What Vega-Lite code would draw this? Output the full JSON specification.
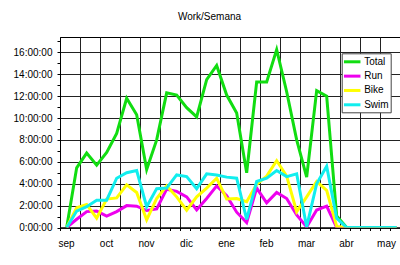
{
"$schema":"https://vega.github.io/schema/vega-lite/v6.json",
"width":340,"height":190.5,
"autosize":"none",
"padding":{"left":60,"top":37,"right":0,"bottom":37.5},
"background":"white",
"title":{"text":"Work/Semana","fontSize":10,"fontWeight":"normal","font":"Liberation Sans","color":"black","anchor":"middle","dx":-20.5,"offset":6,"baseline":"alphabetic"},
"datasets":{"t":[
{"w":0,"s":"Total","h":0},{"w":1,"s":"Total","h":5.45},{"w":2,"s":"Total","h":6.8},{"w":3,"s":"Total","h":5.7},{"w":4,"s":"Total","h":6.85},{"w":5,"s":"Total","h":8.6},{"w":6,"s":"Total","h":11.8},{"w":7,"s":"Total","h":10.3},{"w":8,"s":"Total","h":5.3},{"w":9,"s":"Total","h":8.0},{"w":10,"s":"Total","h":12.3},{"w":11,"s":"Total","h":12.1},{"w":12,"s":"Total","h":10.95},{"w":13,"s":"Total","h":10.1},{"w":14,"s":"Total","h":13.5},{"w":15,"s":"Total","h":14.8},{"w":16,"s":"Total","h":12.1},{"w":17,"s":"Total","h":10.45},{"w":18,"s":"Total","h":5.0},{"w":19,"s":"Total","h":13.3},{"w":20,"s":"Total","h":13.3},{"w":21,"s":"Total","h":16.25},{"w":22,"s":"Total","h":12.4},{"w":23,"s":"Total","h":8.0},{"w":24,"s":"Total","h":4.6},{"w":25,"s":"Total","h":12.5},{"w":26,"s":"Total","h":12.0},{"w":27,"s":"Total","h":1.05},{"w":28,"s":"Total","h":0},{"w":29,"s":"Total","h":0},{"w":30,"s":"Total","h":0},{"w":31,"s":"Total","h":0},{"w":32,"s":"Total","h":0},{"w":33,"s":"Total","h":0},
{"w":0,"s":"Run","h":0},{"w":1,"s":"Run","h":0.75},{"w":2,"s":"Run","h":1.45},{"w":3,"s":"Run","h":1.5},{"w":4,"s":"Run","h":1.05},{"w":5,"s":"Run","h":1.45},{"w":6,"s":"Run","h":2.0},{"w":7,"s":"Run","h":1.95},{"w":8,"s":"Run","h":1.55},{"w":9,"s":"Run","h":1.7},{"w":10,"s":"Run","h":3.5},{"w":11,"s":"Run","h":3.3},{"w":12,"s":"Run","h":2.8},{"w":13,"s":"Run","h":1.6},{"w":14,"s":"Run","h":2.65},{"w":15,"s":"Run","h":3.8},{"w":16,"s":"Run","h":2.9},{"w":17,"s":"Run","h":1.4},{"w":18,"s":"Run","h":0.45},{"w":19,"s":"Run","h":3.6},{"w":20,"s":"Run","h":2.25},{"w":21,"s":"Run","h":3.2},{"w":22,"s":"Run","h":2.65},{"w":23,"s":"Run","h":1.15},{"w":24,"s":"Run","h":0.05},{"w":25,"s":"Run","h":1.6},{"w":26,"s":"Run","h":1.95},{"w":27,"s":"Run","h":0},{"w":28,"s":"Run","h":0},{"w":29,"s":"Run","h":0},{"w":30,"s":"Run","h":0},{"w":31,"s":"Run","h":0},{"w":32,"s":"Run","h":0},{"w":33,"s":"Run","h":0},
{"w":0,"s":"Bike","h":0},{"w":1,"s":"Bike","h":1.8},{"w":2,"s":"Bike","h":2.1},{"w":3,"s":"Bike","h":0.85},{"w":4,"s":"Bike","h":2.6},{"w":5,"s":"Bike","h":2.7},{"w":6,"s":"Bike","h":3.9},{"w":7,"s":"Bike","h":3.2},{"w":8,"s":"Bike","h":0.7},{"w":9,"s":"Bike","h":2.65},{"w":10,"s":"Bike","h":3.8},{"w":11,"s":"Bike","h":2.8},{"w":12,"s":"Bike","h":1.58},{"w":13,"s":"Bike","h":2.8},{"w":14,"s":"Bike","h":3.6},{"w":15,"s":"Bike","h":4.5},{"w":16,"s":"Bike","h":2.6},{"w":17,"s":"Bike","h":2.65},{"w":18,"s":"Bike","h":2.35},{"w":19,"s":"Bike","h":3.95},{"w":20,"s":"Bike","h":4.7},{"w":21,"s":"Bike","h":6.1},{"w":22,"s":"Bike","h":4.7},{"w":23,"s":"Bike","h":1.45},{"w":24,"s":"Bike","h":2.8},{"w":25,"s":"Bike","h":4.2},{"w":26,"s":"Bike","h":3.4},{"w":27,"s":"Bike","h":0.1},{"w":28,"s":"Bike","h":0},{"w":29,"s":"Bike","h":0},{"w":30,"s":"Bike","h":0},{"w":31,"s":"Bike","h":0},{"w":32,"s":"Bike","h":0},{"w":33,"s":"Bike","h":0},
{"w":0,"s":"Swim","h":0},{"w":1,"s":"Swim","h":1.5},{"w":2,"s":"Swim","h":1.9},{"w":3,"s":"Swim","h":2.5},{"w":4,"s":"Swim","h":2.5},{"w":5,"s":"Swim","h":4.5},{"w":6,"s":"Swim","h":5.0},{"w":7,"s":"Swim","h":5.2},{"w":8,"s":"Swim","h":1.9},{"w":9,"s":"Swim","h":3.55},{"w":10,"s":"Swim","h":3.6},{"w":11,"s":"Swim","h":4.8},{"w":12,"s":"Swim","h":4.65},{"w":13,"s":"Swim","h":3.55},{"w":14,"s":"Swim","h":4.9},{"w":15,"s":"Swim","h":4.8},{"w":16,"s":"Swim","h":4.6},{"w":17,"s":"Swim","h":4.5},{"w":18,"s":"Swim","h":0.75},{"w":19,"s":"Swim","h":4.2},{"w":20,"s":"Swim","h":4.5},{"w":21,"s":"Swim","h":5.2},{"w":22,"s":"Swim","h":4.65},{"w":23,"s":"Swim","h":4.9},{"w":24,"s":"Swim","h":0.05},{"w":25,"s":"Swim","h":4.0},{"w":26,"s":"Swim","h":5.6},{"w":27,"s":"Swim","h":0.85},{"w":28,"s":"Swim","h":0},{"w":29,"s":"Swim","h":0},{"w":30,"s":"Swim","h":0},{"w":31,"s":"Swim","h":0},{"w":32,"s":"Swim","h":0},{"w":33,"s":"Swim","h":0}
]},
"data":{"name":"t"},
"mark":{"type":"line","strokeWidth":3,"clip":true},
"encoding":{
"x":{"field":"w","type":"quantitative","scale":{"domain":[-0.667,33.333],"nice":false,"zero":false},
"axis":{"title":null,"values":[-0.667,0.333,1.333,2.333,3.333,4.333,5.333,6.333,7.333,8.333,9.333,10.333,11.333,12.333,13.333,14.333,15.333,16.333,17.333,18.333,19.333,20.333,21.333,22.333,23.333,24.333,25.333,26.333,27.333,28.333,29.333,30.333,31.333,32.333,33.333],
"labelExpr":"round(datum.value+0.667)%4==0 ? ['sep','oct','nov','dic','ene','feb','mar','abr','may','jun'][round(datum.value+0.667)/4] : ''",
"labelOverlap":false,"labelFlush":false,"labelBound":false,"labelOffset":6,"labelPadding":8,
"labelFont":"Liberation Sans","labelFontSize":10,"labelColor":"black",
"domainColor":"black","tickColor":"black","tickSize":3,
"grid":true,"gridColor":"#222","gridOpacity":{"condition":{"test":"round(datum.value+0.667)%2==1","value":0},"value":1}}},
"y":{"field":"h","type":"quantitative","scale":{"domain":[0,17.4],"nice":false,"zero":true},
"axis":{"title":null,"values":[0,1,2,3,4,5,6,7,8,9,10,11,12,13,14,15,16,17],
"labelExpr":"datum.value%2==0 ? datum.value+':00:00' : ''",
"labelOverlap":false,"labelPadding":5,"labelFont":"Liberation Sans","labelFontSize":10,"labelColor":"black",
"domainColor":"black","tickColor":"black","tickSize":3,
"grid":true,"gridColor":"#222","gridOpacity":{"condition":{"test":"datum.value%2==1","value":0},"value":1}}},
"color":{"field":"s","type":"nominal","sort":["Total","Run","Bike","Swim"],
"scale":{"domain":["Total","Run","Bike","Swim"],"range":["#11DD11","#EE00EE","#FFFF00","#11EEEE"]},
"legend":{"title":null,"orient":"none","legendX":281.7,"legendY":16.3,"padding":1.5,"strokeColor":"#444","fillColor":"white","cornerRadius":0,
"symbolType":"M-1.5,0H1.5","symbolSize":121,"symbolStrokeWidth":3,"symbolOffset":2,"labelOffset":5,"rowPadding":1.33,
"labelFont":"Liberation Sans","labelFontSize":10,"labelColor":"black"}}
},
"config":{"view":{"stroke":"black","strokeWidth":1},"font":"Liberation Sans"}
}
